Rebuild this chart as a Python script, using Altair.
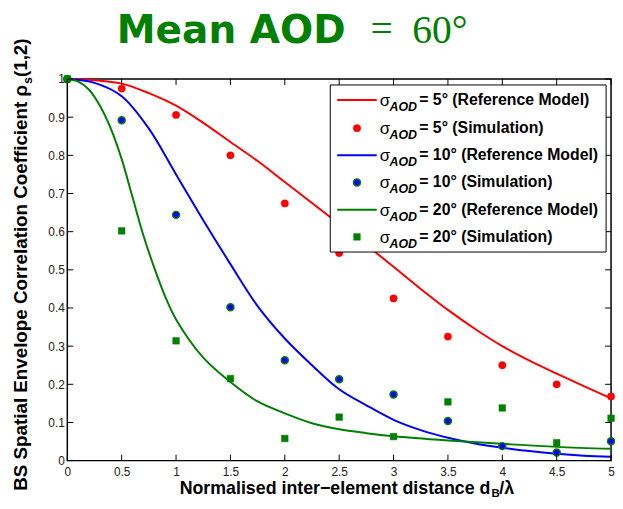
import altair as alt
import pandas as pd

# ---------------- data ----------------
x_ref = [0, 0.25, 0.5, 0.75, 1, 1.25, 1.5, 1.75, 2, 2.25, 2.5, 2.75, 3, 3.25,
         3.5, 3.75, 4, 4.25, 4.5, 4.75, 5]
red_ref = [1, 0.997, 0.988, 0.963, 0.93, 0.885, 0.835, 0.785, 0.73, 0.675, 0.62,
           0.565, 0.508, 0.45, 0.395, 0.345, 0.30, 0.262, 0.228, 0.195, 0.163]
blue_ref = [1, 0.99, 0.955, 0.87, 0.75, 0.63, 0.515, 0.405, 0.32, 0.25, 0.187,
            0.145, 0.107, 0.08, 0.06, 0.045, 0.034, 0.025, 0.018, 0.013, 0.010]
x_green_ref = [0, 0.1, 0.2, 0.3, 0.4, 0.5, 0.6, 0.7, 0.8, 0.9, 1, 1.25, 1.5, 1.75,
               2, 2.25, 2.5, 2.75, 3, 3.5, 4, 4.5, 5]
green_ref = [1, 0.993, 0.972, 0.93, 0.87, 0.79, 0.69, 0.59, 0.505, 0.43, 0.37,
             0.27, 0.206, 0.155, 0.124, 0.098, 0.082, 0.072, 0.064, 0.053, 0.044,
             0.036, 0.031]

x_sim = [0, 0.5, 1, 1.5, 2, 2.5, 3, 3.5, 4, 4.5, 5]
red_sim = [1, 0.975, 0.906, 0.80, 0.674, 0.544, 0.425, 0.325, 0.250, 0.200, 0.168]
blue_sim = [1, 0.892, 0.644, 0.402, 0.263, 0.213, 0.173, 0.104, 0.038, 0.021, 0.051]
green_sim = [1, 0.602, 0.314, 0.215, 0.058, 0.114, 0.063, 0.154, 0.138, 0.047, 0.111]

x_ticks = [0, 0.5, 1, 1.5, 2, 2.5, 3, 3.5, 4, 4.5, 5]
y_ticks = [0, 0.1, 0.2, 0.3, 0.4, 0.5, 0.6, 0.7, 0.8, 0.9, 1]

legend_labels = ["= 5° (Reference Model)", "= 5° (Simulation)",
                 "= 10° (Reference Model)", "= 10° (Simulation)",
                 "= 20° (Reference Model)", "= 20° (Simulation)"]

title_main = "Mean AOD"
title_eq = "="
title_val = "60°"
x_title = ["Normalised inter\u2212element distance d", "B", "/λ"]
y_title = ["BS Spatial Envelope Correlation Coefficient  ρ", "s", "(1,2)"]

RED, BLUE, GREEN = "#ff0000", "#0000ff", "#008000"
W, H = 550, 386
SANS = "Liberation Sans"

xs = alt.Scale(domain=[0, 5], nice=False, zero=False)
ys = alt.Scale(domain=[0, 1], nice=False, zero=False)

x_axis = alt.Axis(values=x_ticks, format=".1~f", ticks=False, domain=False,
                  grid=False, title=None, labelFont=SANS, labelFontSize=12,
                  labelColor="#222222", labelPadding=6, labelFlush=False)
y_axis = alt.Axis(values=y_ticks, format=".1~f", ticks=False, domain=False,
                  grid=False, title=None, labelFont=SANS, labelFontSize=12,
                  labelColor="#222222", labelPadding=3, labelFlush=False)


def XF(field):
    return alt.X(field, scale=xs, axis=x_axis)


def YF(field):
    return alt.Y(field, scale=ys, axis=y_axis)


layers = []


def line_layer(xv, yv, color):
    df = pd.DataFrame({"x": xv, "y": yv})
    return alt.Chart(df).mark_line(color=color, strokeWidth=2,
                                   interpolate="catmull-rom").encode(
        x=XF("x:Q"), y=YF("y:Q"))


layers.append(line_layer(x_ref, red_ref, RED))
layers.append(line_layer(x_ref, blue_ref, BLUE))
layers.append(line_layer(x_green_ref, green_ref, GREEN))


def pts(xv, yv, shape, fill, stroke, sw, size):
    df = pd.DataFrame({"x": xv, "y": yv})
    return alt.Chart(df).mark_point(shape=shape, filled=True, fill=fill,
                                    stroke=stroke, strokeWidth=sw, size=size,
                                    opacity=1, clip=False).encode(
        x=XF("x:Q"), y=YF("y:Q"))


layers.append(pts(x_sim, red_sim, "circle", RED, RED, 0.5, 55))
layers.append(pts(x_sim, blue_sim, "circle", BLUE, GREEN, 1.5, 50))
layers.append(pts(x_sim, green_sim, "square", GREEN, GREEN, 0.5, 45))

# inward ticks on all four sides
tx = pd.DataFrame({"x": x_ticks})
ty = pd.DataFrame({"y": y_ticks})
TL = 6
layers.append(alt.Chart(tx).mark_rule(color="black", strokeWidth=1).encode(
    x=XF("x:Q"), y=alt.value(H), y2=alt.value(H - TL)))
layers.append(alt.Chart(tx).mark_rule(color="black", strokeWidth=1).encode(
    x=XF("x:Q"), y=alt.value(0), y2=alt.value(TL)))
layers.append(alt.Chart(ty).mark_rule(color="black", strokeWidth=1).encode(
    y=YF("y:Q"), x=alt.value(0), x2=alt.value(TL)))
layers.append(alt.Chart(ty).mark_rule(color="black", strokeWidth=1).encode(
    y=YF("y:Q"), x=alt.value(W), x2=alt.value(W - TL)))


def text(s, x, y, size, font=SANS, weight="normal", style="normal",
         align="left", baseline="alphabetic", angle=0, color="black"):
    df = pd.DataFrame({"s": [s]})
    return alt.Chart(df).mark_text(font=font, fontSize=size, fontWeight=weight,
                                   fontStyle=style, align=align,
                                   baseline=baseline, angle=angle,
                                   color=color).encode(
        text="s:N", x=alt.value(x), y=alt.value(y))


# legend box
lb = pd.DataFrame({"a": [0]})
LX0, LX1, LY0, LY1 = 266, 545, 6, 175
layers.append(alt.Chart(lb).mark_rect(fill="white", stroke="black",
                                      strokeWidth=1).encode(
    x=alt.value(LX0), x2=alt.value(LX1), y=alt.value(LY0), y2=alt.value(LY1)))

row_y = [21.3, 49.7, 77, 104.7, 132.3, 159.7]
line_colors = [RED, None, BLUE, None, GREEN, None]
for i, lab in enumerate(legend_labels):
    yy = row_y[i]
    if i % 2 == 0:
        layers.append(alt.Chart(lb).mark_rule(color=line_colors[i],
                                              strokeWidth=2).encode(
            x=alt.value(273), x2=alt.value(313), y=alt.value(yy)))
    layers.append(text("σ", 316, yy + 1, 17, baseline="middle"))
    layers.append(text("AOD", 326, yy + 7, 12.5, weight="bold", style="italic",
                       baseline="middle"))
    layers.append(text(lab, 356, yy, 16, weight="bold", baseline="middle"))

lm = pd.DataFrame({"a": [0]})
for yy, shape, fill, stroke, sw, size in [
        (row_y[1], "circle", RED, RED, 0.5, 55),
        (row_y[3], "circle", BLUE, GREEN, 1.5, 50),
        (row_y[5], "square", GREEN, GREEN, 0.5, 45)]:
    layers.append(alt.Chart(lm).mark_point(shape=shape, filled=True, fill=fill,
                                           stroke=stroke, strokeWidth=sw,
                                           size=size, opacity=1).encode(
        x=alt.value(293), y=alt.value(yy)))

# title
layers.append(text(title_main, 50, -36, 39.5, font="DejaVu Sans", weight="bold",
                   color=GREEN))
layers.append(text(title_eq, 318, -37, 40, font="Liberation Serif",
                   align="center", color=GREEN))
layers.append(text(title_val, 349, -36, 40, font="Liberation Serif",
                   color=GREEN))

# x axis title
layers.append(text(x_title[0], 428, 420, 18, weight="bold", align="right"))
layers.append(text(x_title[1], 429, 423, 11.5, weight="bold"))
layers.append(text(x_title[2], 437, 420, 18, weight="bold"))

# y axis title (rotated)
layers.append(text(y_title[0], -41, 6, 19, weight="bold", align="right",
                   angle=270))
layers.append(text(y_title[1], -36, 5, 12.5, weight="bold", angle=270))
layers.append(text(y_title[2], -41, -2, 19, weight="bold", angle=270))

chart = alt.layer(*layers).properties(
    width=W, height=H,
    autosize=alt.AutoSizeParams(type="none"),
    padding={"left": 60, "top": 69, "right": 4, "bottom": 38},
).configure_view(stroke="black", strokeWidth=1.5)

chart.save("out.html", embed_options={"renderer": "svg", "actions": False})
